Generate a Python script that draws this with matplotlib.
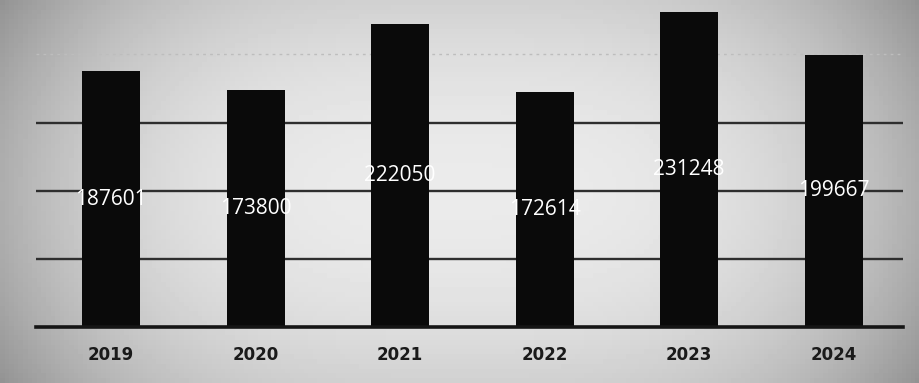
import matplotlib
matplotlib.use("Agg")
import matplotlib.pyplot as plt
from matplotlib.transforms import TransformedBbox
import numpy as np

years = ["2019", "2020", "2021", "2022", "2023", "2024"]
values = [187601, 173800, 222050, 172614, 231248, 199667]

W, H = 920, 383
fig = plt.figure(figsize=(W / 100, H / 100), dpi=100)

# fond gris façon scan : plus clair au centre, plus sombre sur les bords
bg = fig.add_axes([0, 0, 1, 1])
xx = np.linspace(-1, 1, 200)
yy = np.linspace(-1, 1, 80)
gx, gy = np.meshgrid(xx, yy)
shade = 0.92 - 0.24 * np.abs(gx) ** 3 - 0.10 * np.abs(gy) ** 2
bg.imshow(shade, cmap="gray", vmin=0, vmax=1, aspect="auto", extent=[0, 1, 0, 1])
bg.set_axis_off()

left, right = 36 / W, 903 / W
bottom = (H - 327) / H
ax = fig.add_axes([left, bottom, right - left, 1 - bottom])
ax.patch.set_alpha(0)

x = np.arange(len(years))
bars = ax.bar(x + 0.02, values, width=0.4, color="#0a0a0a", zorder=3, clip_on=False)

# lignes de grille
for g in [50000, 100000, 150000]:
    ax.axhline(g, color="#2e2e2e", lw=1.7, zorder=1)
ax.axhline(200000, color="#bdbdbd", lw=1.0, ls=(0, (2, 3)), zorder=1)
ax.axhline(0, color="#151515", lw=2.6, zorder=4, clip_on=False)

# étiquettes blanches coupées par la barre
for b, v in zip(bars, values):
    t = ax.text(b.get_x() + b.get_width() / 2, v / 2, str(v), ha="center", va="center",
                color="white", fontsize=15, family=["Open Sans", "DejaVu Sans"], zorder=5)
    t.set_clip_box(TransformedBbox(b.get_bbox(), ax.transData))

ax.set_xlim(-0.5, len(years) - 0.5)
ax.set_ylim(0, 327 * 733.5)
ax.set_xticks(x + 0.02)
ax.set_xticklabels(years, fontsize=12, fontweight="bold", color="#1a1a1a")
ax.tick_params(axis="x", length=0, pad=14)
ax.set_yticks([])
for s in ax.spines.values():
    s.set_visible(False)

fig.savefig("out.png", dpi=100)
